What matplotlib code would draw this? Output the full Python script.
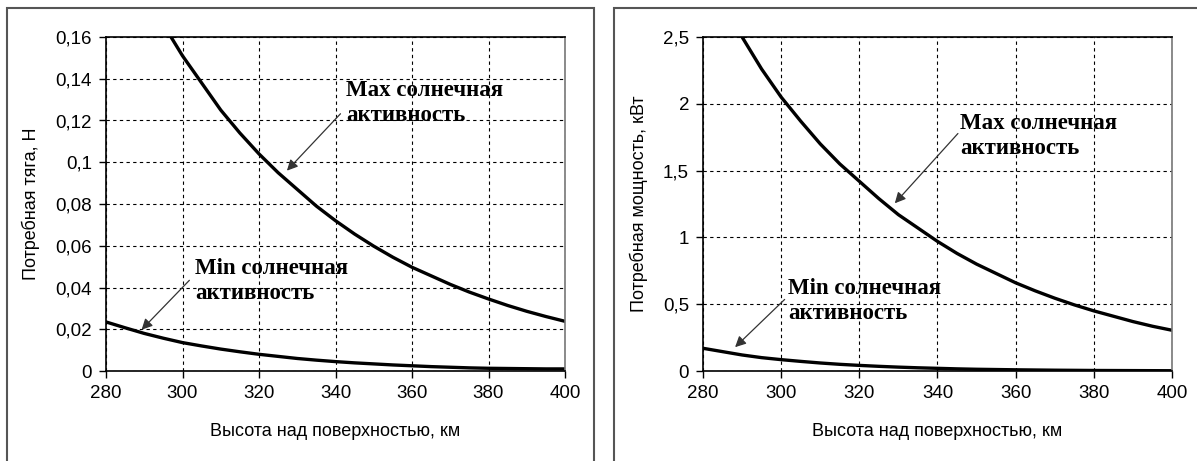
import matplotlib.pyplot as plt
from matplotlib.patches import Rectangle

# altitude, km
h_max_thrust = [297, 300, 305, 310, 315, 320, 325, 330, 335, 340, 345, 350,
                355, 360, 365, 370, 375, 380, 385, 390, 395, 400]
thrust_max = [0.160, 0.151, 0.138, 0.125, 0.114, 0.104, 0.095, 0.087, 0.079, 0.072, 0.0656, 0.0598,
              0.0545, 0.0497, 0.0456, 0.0415, 0.0378, 0.0345, 0.0314, 0.0286, 0.0261, 0.0238]
h_min = [280, 285, 290, 295, 300, 305, 310, 315, 320, 325, 330, 335, 340,
         345, 350, 355, 360, 365, 370, 375, 380, 385, 390, 395, 400]
thrust_min = [0.0235, 0.0207, 0.0180, 0.0157, 0.0136, 0.0120, 0.0105, 0.0092, 0.0080, 0.0070,
              0.0060, 0.0052, 0.0045, 0.0039, 0.0034, 0.0029, 0.0025, 0.0021, 0.0018, 0.0015,
              0.0013, 0.0012, 0.0011, 0.0010, 0.0010]

h_max_power = [290, 295, 300, 305, 310, 315, 320, 325, 330, 335, 340, 345,
               350, 355, 360, 365, 370, 375, 380, 385, 390, 395, 400]
power_max = [2.50, 2.26, 2.05, 1.87, 1.70, 1.55, 1.42, 1.29, 1.17, 1.07, 0.97, 0.88,
             0.80, 0.73, 0.66, 0.60, 0.545, 0.495, 0.45, 0.41, 0.37, 0.335, 0.305]
power_min = [0.17, 0.145, 0.12, 0.10, 0.085, 0.072, 0.06, 0.05, 0.042, 0.035, 0.029, 0.024, 0.02,
             0.016, 0.013, 0.011, 0.009, 0.0075, 0.006, 0.005, 0.004, 0.0035, 0.003, 0.0025, 0.002]

x_ticks = [280, 300, 320, 340, 360, 380, 400]
thrust_ticks = [0, 0.02, 0.04, 0.06, 0.08, 0.1, 0.12, 0.14, 0.16]
thrust_labels = ['0', '0,02', '0,04', '0,06', '0,08', '0,1', '0,12', '0,14', '0,16']
power_ticks = [0, 0.5, 1, 1.5, 2, 2.5]
power_labels = ['0', '0,5', '1', '1,5', '2', '2,5']

plt.rcParams['font.family'] = ['Liberation Sans', 'DejaVu Sans']

fig = plt.figure(figsize=(11.97, 4.61), dpi=100)

# panel frames
W, H = 1197, 461
for x0, x1 in [(7, 594), (614, 1200)]:
    fig.patches.append(Rectangle((x0 / W, -0.05), (x1 - x0) / W, 1.05 - 8 / H,
                                 transform=fig.transFigure, fill=False,
                                 edgecolor='#555555', linewidth=1.5))

ax1 = fig.add_axes([106 / W, 1 - 371 / H, 459 / W, 334 / H])
ax2 = fig.add_axes([703 / W, 1 - 371 / H, 469 / W, 334 / H])

ann_font = dict(family='Liberation Serif', fontweight='bold', fontsize=16.5)


def style(ax, yticks, ylabels, ymax, ylabel):
    ax.set_xlim(280, 400)
    ax.set_ylim(0, ymax)
    ax.set_xticks(x_ticks)
    ax.set_yticks(yticks)
    ax.set_yticklabels(ylabels)
    ax.tick_params(direction='out', length=5, width=1, labelsize=13.5, pad=5)
    ax.grid(True, color='black', linestyle=(0, (3, 3)), linewidth=0.8)
    for s in ['left', 'bottom', 'top']:
        ax.spines[s].set_color('black')
        ax.spines[s].set_linewidth(1.2)
    ax.spines['right'].set_color('#777777')
    ax.spines['right'].set_linewidth(1.2)
    ax.set_xlabel('Высота над поверхностью, км', fontsize=13, labelpad=15)
    ax.set_ylabel(ylabel, fontsize=13, labelpad=11)


# thrust
ax1.plot(h_max_thrust, thrust_max, color='black', linewidth=2.4)
ax1.plot(h_min, thrust_min, color='black', linewidth=2.4)
style(ax1, thrust_ticks, thrust_labels, 0.16, 'Потребная тяга, Н')
ax1.text(342.8, 0.1284, 'Max солнечная\nактивность', va='center', ha='left',
         linespacing=1.25, **ann_font)
ax1.annotate('', xy=(326.8, 0.0950), xytext=(341.8, 0.1242),
             arrowprops=dict(arrowstyle='-|>', color='#333333', lw=0.9, mutation_scale=16))
ax1.text(303.3, 0.0432, 'Min солнечная\nактивность', va='center', ha='left',
         linespacing=1.25, **ann_font)
ax1.annotate('', xy=(288.8, 0.0188), xytext=(302.3, 0.0444),
             arrowprops=dict(arrowstyle='-|>', color='#333333', lw=0.9, mutation_scale=16))

# power
ax2.plot(h_max_power, power_max, color='black', linewidth=2.4)
ax2.plot(h_min, power_min, color='black', linewidth=2.4)
style(ax2, power_ticks, power_labels, 2.5, 'Потребная мощность, кВт')
ax2.text(345.7, 1.756, 'Max солнечная\nактивность', va='center', ha='left',
         linespacing=1.25, **ann_font)
ax2.annotate('', xy=(328.6, 1.24), xytext=(345.7, 1.793),
             arrowprops=dict(arrowstyle='-|>', color='#333333', lw=0.9, mutation_scale=16))
ax2.text(301.8, 0.525, 'Min солнечная\nактивность', va='center', ha='left',
         linespacing=1.25, **ann_font)
ax2.annotate('', xy=(287.7, 0.164), xytext=(301.4, 0.55),
             arrowprops=dict(arrowstyle='-|>', color='#333333', lw=0.9, mutation_scale=16))

plt.savefig('out.png', dpi=100)
